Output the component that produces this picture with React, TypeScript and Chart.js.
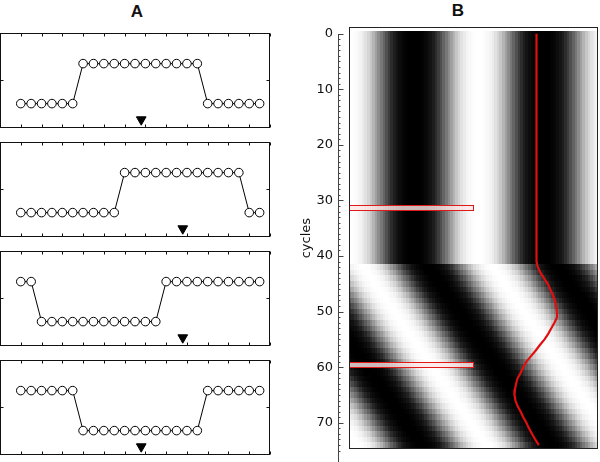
import React, { useEffect, useRef } from 'react';
import { Chart, registerables } from 'chart.js';

Chart.register(...registerables);

// ---------- Panel A data ----------
const positions = [0, 1, 2, 3, 4, 5, 6, 7, 8, 9, 10, 11, 12, 13, 14, 15, 16, 17, 18, 19, 20, 21, 22, 23];
const seriesA1 = [0, 0, 0, 0, 0, 0, 1, 1, 1, 1, 1, 1, 1, 1, 1, 1, 1, 1, 0, 0, 0, 0, 0, 0];
const seriesA2 = [0, 0, 0, 0, 0, 0, 0, 0, 0, 0, 1, 1, 1, 1, 1, 1, 1, 1, 1, 1, 1, 1, 0, 0];
const seriesA3 = [1, 1, 0, 0, 0, 0, 0, 0, 0, 0, 0, 0, 0, 0, 1, 1, 1, 1, 1, 1, 1, 1, 1, 1];
const seriesA4 = [1, 1, 1, 1, 1, 1, 0, 0, 0, 0, 0, 0, 0, 0, 0, 0, 0, 0, 1, 1, 1, 1, 1, 1];
const markersA = [11.6, 15.6, 15.6, 11.6];
const markerLevel = -0.4;
const aXTicks = [-2, 0, 2, 4, 6, 8, 10, 12, 14, 16, 18, 20, 22, 24];
const aYTicks = [0.58];

// ---------- Panel B data ----------
const cycleTicks = [0, 10, 20, 30, 40, 50, 60, 70];
// grey level versus column offset from a dark stripe centre (one period)
const stripeProfile = [0, 0, 5, 15, 35, 70, 110, 150, 190, 220, 240, 250, 255, 255, 250, 240, 220, 190, 150, 110, 70, 35, 15, 5, 0];
const stripeCenter = 12.5;
const heatWidth = 48; // columns spanned by the image
const heatStep = 0.5; // sampling step in columns
// stripe displacement (columns) for each cycle 0..74
const stripeShift = [
  0, 0, 0, 0, 0, 0, 0, 0, 0, 0,
  0, 0, 0, 0, 0, 0, 0, 0, 0, 0,
  0, 0, 0, 0, 0, 0, 0, 0, 0, 0,
  0, 0, 0, 0, 0, 0, 0, 0, 0, 0,
  0, 0, 2.8, 3.5, 4.3, 5.0, 5.7, 6.5, 7.2, 8.0,
  8.7, 9.4, 10.2, 10.9, 11.7, 12.4, 13.1, 13.9, 14.6, 15.4,
  16.1, 16.8, 17.6, 18.3, 19.1, 19.8, 20.5, 21.3, 22.0, 22.8,
  23.5, 24.2, 25.0, 25.7, 26.5,
];
// red trace position (columns) for each cycle 0..74
const traceCols = [
  36.15, 36.15, 36.15, 36.15, 36.15, 36.15, 36.15, 36.15, 36.15, 36.15,
  36.15, 36.15, 36.15, 36.15, 36.15, 36.15, 36.15, 36.15, 36.15, 36.15,
  36.15, 36.15, 36.15, 36.15, 36.15, 36.15, 36.15, 36.15, 36.15, 36.15,
  36.15, 36.15, 36.15, 36.15, 36.15, 36.15, 36.15, 36.15, 36.15, 36.15,
  36.15, 36.15, 36.4, 36.9, 37.6, 38.3, 38.8, 39.3, 39.7, 39.9,
  40.1, 40.1, 39.6, 39.0, 38.4, 37.7, 36.8, 36.0, 35.1, 34.2,
  33.6, 33.1, 32.5, 32.2, 32.0, 31.9, 32.1, 32.5, 33.1, 33.6,
  34.2, 34.7, 35.3, 35.9, 36.6,
];
const highlightRows = [
  [30.8, 31.7],
  [59.0, 59.95],
];
const highlightCols = [0, 24];

const FONT = "'DejaVu Sans', Verdana, sans-serif";

// ---------- plugins ----------
const aFramePlugin = {
  id: 'aFrame',
  beforeDatasetsDraw(chart: any) {
    const { ctx, chartArea: ca, scales } = chart;
    const xs = scales.x;
    const ys = scales.y;
    const L = Math.round(ca.left) + 0.5;
    const R = Math.round(ca.right) - 0.5;
    const T = Math.round(ca.top) + 0.5;
    const B = Math.round(ca.bottom) - 0.5;
    ctx.save();
    ctx.strokeStyle = '#111';
    ctx.lineWidth = 1;
    ctx.strokeRect(L, T, R - L, B - T);
    ctx.beginPath();
    aXTicks.forEach((v) => {
      const px = Math.round(xs.getPixelForValue(v)) + 0.5;
      ctx.moveTo(px, T);
      ctx.lineTo(px, T + 3);
      ctx.moveTo(px, B);
      ctx.lineTo(px, B - 3);
    });
    aYTicks.forEach((v) => {
      const py = Math.round(ys.getPixelForValue(v)) + 0.5;
      ctx.moveTo(L, py);
      ctx.lineTo(L + 3, py);
      ctx.moveTo(R, py);
      ctx.lineTo(R - 3, py);
    });
    ctx.stroke();
    ctx.restore();
  },
};

const heatPlugin = {
  id: 'heat',
  beforeDatasetsDraw(chart: any) {
    const { ctx, scales } = chart;
    const xs = scales.x;
    const ys = scales.y;
    const P = stripeProfile.length;
    const nCols = Math.round(heatWidth / heatStep);
    ctx.save();
    for (let r = 0; r < stripeShift.length; r++) {
      const ya = Math.round(ys.getPixelForValue(r - 0.5));
      const yb = Math.round(ys.getPixelForValue(r + 0.5));
      const center = stripeCenter + stripeShift[r];
      for (let c = 0; c < nCols; c++) {
        const v0 = c * heatStep;
        const xa = Math.round(xs.getPixelForValue(v0));
        const xb = Math.round(xs.getPixelForValue(v0 + heatStep));
        const off = (((v0 + heatStep / 2 - center) % P) + P) % P;
        const i0 = Math.floor(off);
        const f = off - i0;
        const g = Math.round(stripeProfile[i0 % P] * (1 - f) + stripeProfile[(i0 + 1) % P] * f);
        ctx.fillStyle = `rgb(${g},${g},${g})`;
        ctx.fillRect(xa, ya, xb - xa, yb - ya);
      }
    }
    ctx.restore();
  },
  afterDatasetsDraw(chart: any) {
    const { ctx, chartArea: ca, scales } = chart;
    const xs = scales.x;
    const ys = scales.y;
    ctx.save();
    // highlight boxes
    highlightRows.forEach(([a, b]) => {
      const x0 = Math.round(xs.getPixelForValue(highlightCols[0])) + 0.5;
      const x1 = Math.round(xs.getPixelForValue(highlightCols[1])) + 0.5;
      const y0 = Math.round(ys.getPixelForValue(a)) + 0.5;
      const y1 = Math.round(ys.getPixelForValue(b)) + 0.5;
      ctx.fillStyle = 'rgba(255,232,232,0.8)';
      ctx.fillRect(x0, y0, x1 - x0, y1 - y0);
      ctx.strokeStyle = '#e01818';
      ctx.lineWidth = 1;
      ctx.strokeRect(x0, y0, x1 - x0, y1 - y0);
    });
    // frame
    const L = Math.round(xs.getPixelForValue(0)) + 0.5;
    const R = Math.round(ca.right) - 0.5;
    const T = Math.round(ca.top) + 0.5;
    const B = Math.round(ca.bottom) - 0.5;
    ctx.strokeStyle = '#222';
    ctx.lineWidth = 1;
    ctx.strokeRect(L, T, R - L, B - T);
    // axis line with ticks
    const ax = Math.round(ca.left) + 0.5;
    ctx.strokeStyle = '#444';
    ctx.beginPath();
    ctx.moveTo(ax, Math.round(ys.getPixelForValue(0)));
    ctx.lineTo(ax, chart.height);
    for (let v = 0; v <= 75; v++) {
      const py = Math.round(ys.getPixelForValue(v)) + 0.5;
      const len = v % 10 === 0 ? 5 : 2;
      ctx.moveTo(ax, py);
      ctx.lineTo(ax + len, py);
    }
    ctx.stroke();
    ctx.restore();
  },
};

// ---------- components ----------
function PanelA({ series, marker, frameTop }: { series: number[]; marker: number; frameTop: number }) {
  const ref = useRef<HTMLCanvasElement | null>(null);
  useEffect(() => {
    if (!ref.current) return;
    const chart = new Chart(ref.current, {
      type: 'scatter',
      data: {
        datasets: [
          {
            data: series.map((v, i) => ({ x: positions[i], y: v })),
            showLine: true,
            borderColor: '#000',
            borderWidth: 1,
            pointRadius: 4.3,
            pointBackgroundColor: '#fff',
            pointBorderColor: '#000',
            pointBorderWidth: 1,
            tension: 0,
          },
          {
            data: [{ x: marker, y: markerLevel }],
            showLine: false,
            pointStyle: 'triangle',
            rotation: 180,
            pointRadius: 5.6,
            pointBackgroundColor: '#000',
            pointBorderColor: '#000',
            pointBorderWidth: 1,
          },
        ],
      },
      options: {
        animation: false,
        responsive: false,
        devicePixelRatio: 1,
        layout: { autoPadding: false, padding: { left: 0, right: 2, top: 2, bottom: 3 } },
        plugins: { legend: { display: false }, tooltip: { enabled: false } },
        scales: {
          x: { type: 'linear', display: false, min: -2, max: 24 },
          y: { type: 'linear', display: false, min: -0.61, max: 1.765 },
        },
      } as any,
      plugins: [aFramePlugin],
    });
    return () => chart.destroy();
  }, []);
  return (
    <canvas
      ref={ref}
      width={272}
      height={100}
      style={{ position: 'absolute', left: 0, top: Math.round(frameTop) - 2, width: 272, height: 100 }}
    />
  );
}

function PanelB() {
  const ref = useRef<HTMLCanvasElement | null>(null);
  useEffect(() => {
    if (!ref.current) return;
    const chart = new Chart(ref.current, {
      type: 'scatter',
      data: {
        datasets: [
          {
            data: traceCols.map((c, i) => ({ x: c, y: i })),
            showLine: true,
            borderColor: '#e01010',
            borderWidth: 2.2,
            pointRadius: 0,
            tension: 0,
          },
        ],
      },
      options: {
        animation: false,
        responsive: false,
        devicePixelRatio: 1,
        layout: { autoPadding: false, padding: { left: 0, right: 2, top: 27, bottom: 2 } },
        plugins: { legend: { display: false }, tooltip: { enabled: false } },
        scales: {
          x: { type: 'linear', display: false, min: -2.1, max: 48 },
          y: {
            type: 'linear',
            reverse: true,
            min: -1.2,
            max: 74.75,
            afterFit: (s: any) => {
              s.width = 48;
            },
            afterBuildTicks: (s: any) => {
              s.ticks = cycleTicks.map((v) => ({ value: v }));
            },
            grid: { display: false, drawTicks: false },
            border: { display: false },
            ticks: { padding: 5, color: '#111', font: { family: FONT, size: 13 } },
            title: {
              display: true,
              text: 'cycles',
              color: '#111',
              font: { family: FONT, size: 13 },
              padding: { top: 9, bottom: 0 },
            },
          },
        },
      } as any,
      plugins: [heatPlugin],
    });
    return () => chart.destroy();
  }, []);
  return (
    <canvas
      ref={ref}
      width={310}
      height={462}
      style={{ position: 'absolute', left: 290, top: 0, width: 310, height: 462 }}
    />
  );
}

const titleStyle: React.CSSProperties = {
  position: 'absolute',
  width: 60,
  textAlign: 'center',
  fontFamily: "'Liberation Sans', Arial, sans-serif",
  fontWeight: 'bold',
  fontSize: 17,
  lineHeight: '20px',
  color: '#111',
};

export default function App() {
  return (
    <div style={{ position: 'absolute', left: 0, top: 0, width: 600, height: 462, background: '#fff', overflow: 'hidden' }}>
      <div style={{ ...titleStyle, left: 107, top: 2 }}>A</div>
      <div style={{ ...titleStyle, left: 428, top: 1 }}>B</div>
      <PanelA series={seriesA1} marker={markersA[0]} frameTop={33} />
      <PanelA series={seriesA2} marker={markersA[1]} frameTop={142} />
      <PanelA series={seriesA3} marker={markersA[2]} frameTop={251} />
      <PanelA series={seriesA4} marker={markersA[3]} frameTop={360} />
      <PanelB />
    </div>
  );
}
